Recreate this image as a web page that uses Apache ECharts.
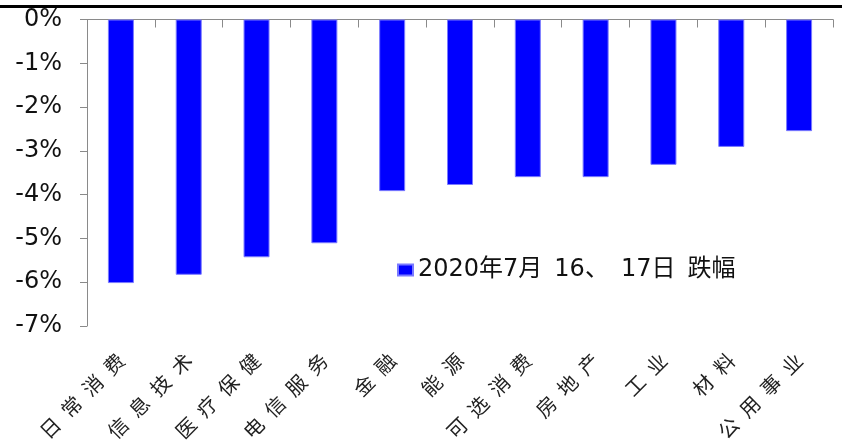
<!DOCTYPE html>
<html>
<head>
<meta charset="utf-8">
<script src="https://cdn.jsdelivr.net/npm/echarts@6/dist/echarts.min.js"></script>
<style>
  html, body { margin: 0; padding: 0; background: #fff; }
  #chart { width: 842px; height: 445px; }
</style>
</head>
<body>
<div id="chart"></div>
<script>
// Sector names along the horizontal axis
const categories = ['日常消费', '信息技术', '医疗保健', '电信服务', '金融', '能源', '可选消费', '房地产', '工业', '材料', '公用事业'];
// Decline per sector, in percent
const dropValues = [-6.02, -5.83, -5.43, -5.11, -3.92, -3.78, -3.60, -3.60, -3.32, -2.91, -2.55];
const seriesName = '2020年7月 16、 17日 跌幅';
// Value axis range and step (percent)
const yMin = -7;
const yMax = 0;
const yStep = 1;

const axisGray = '#8a8a8a';
const chart = echarts.init(document.getElementById('chart'));

chart.setOption({
  animation: false,
  backgroundColor: '#fff',
  grid: { left: 87, right: 9, top: 19.5, bottom: 119, containLabel: false },
  graphic: [{
    type: 'line',
    shape: { x1: 0, y1: 6.5, x2: 842, y2: 6.5 },
    style: { stroke: '#000', lineWidth: 3 }
  }],
  legend: {
    data: [seriesName],
    left: 397,
    top: 258,
    padding: 0,
    icon: 'rect',
    itemWidth: 15,
    itemHeight: 11,
    formatter: (name) => name.replace(/ /g, '\u2002'),
    textStyle: { fontFamily: 'DejaVu Sans, Noto Sans CJK SC', fontSize: 24, color: '#111' }
  },
  xAxis: [{
    type: 'category',
    data: categories,
    position: 'top',
    boundaryGap: true,
    axisLine: { show: true, lineStyle: { color: axisGray, width: 1 } },
    axisTick: { show: true, inside: true, length: 8, lineStyle: { color: axisGray } },
    axisLabel: { show: false },
    splitLine: { show: false }
  }, {
    type: 'category',
    data: categories,
    position: 'bottom',
    axisLine: { show: false },
    axisTick: { show: false },
    axisLabel: {
      show: true,
      interval: 0,
      rotate: 45,
      margin: 31,
      fontFamily: 'Noto Sans CJK SC',
      fontSize: 20,
      color: '#222',
      formatter: (v) => v.split('').join('\u2002')
    },
    splitLine: { show: false }
  }],
  yAxis: {
    type: 'value',
    min: yMin,
    max: yMax,
    interval: yStep,
    axisLine: { show: true, lineStyle: { color: axisGray, width: 1 } },
    axisTick: { show: true, length: 7, lineStyle: { color: axisGray } },
    axisLabel: {
      margin: 25,
      fontFamily: 'DejaVu Sans',
      fontSize: 24,
      color: '#111',
      formatter: (v) => v + '%'
    },
    splitLine: { show: false }
  },
  series: [{
    name: seriesName,
    type: 'bar',
    xAxisIndex: 0,
    data: dropValues,
    barWidth: 26,
    itemStyle: { color: '#0000ff', borderColor: '#7a7aff', borderWidth: 1 }
  }]
});
</script>
</body>
</html>
